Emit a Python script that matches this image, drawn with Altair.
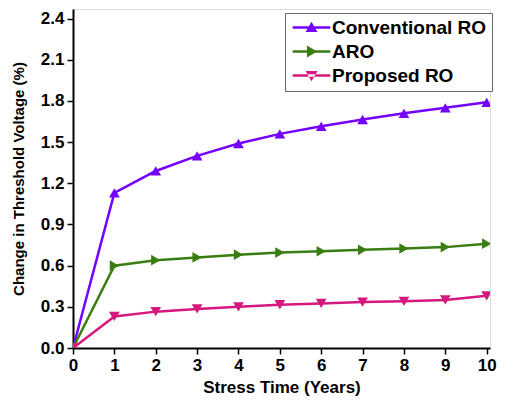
import altair as alt
import pandas as pd

years = [0, 1, 2, 3, 4, 5, 6, 7, 8, 9, 10]
conventional = [0.0, 1.13, 1.29, 1.40, 1.49, 1.56, 1.615, 1.665, 1.71, 1.75, 1.79]
aro = [0.0, 0.60, 0.64, 0.66, 0.68, 0.695, 0.705, 0.715, 0.725, 0.735, 0.76]
proposed = [0.0, 0.23, 0.265, 0.285, 0.30, 0.315, 0.325, 0.335, 0.34, 0.35, 0.38]

series = ["Conventional RO", "ARO", "Proposed RO"]
colors = ["#7400ff", "#3a7d13", "#d6177e"]
shapes = ["triangle-up", "triangle-right", "triangle-down"]
legend_shapes = [
    "M-3.3,-0.2H3.3V0.2H-3.3Z M0,-1.0L1.05,0.8H-1.05Z",
    "M-3.3,-0.2H3.3V0.2H-3.3Z M1.0,0L-0.8,1.05V-1.05Z",
    "M-3.3,-0.2H3.3V0.2H-3.3Z M0,1.0L1.05,-0.8H-1.05Z",
]
# major + minor tick positions
x_ticks = [i * 0.5 for i in range(0, 21)]
y_ticks = [round(i * 0.15, 2) for i in range(0, 17)]

rows = []
for name, vals in zip(series, [conventional, aro, proposed]):
    for t, v in zip(years, vals):
        rows.append({"year": t, "value": v, "series": name})
df = pd.DataFrame(rows)

FONT = "Liberation Sans"
xscale = alt.Scale(domain=[0, 10.08], nice=False, zero=False)
yscale = alt.Scale(domain=[0, 2.47], nice=False, zero=False)
cscale = alt.Scale(domain=series, range=colors)

x_major_test = "abs(datum.value - round(datum.value)) < 0.01"
y_major_test = "abs(datum.value - round(datum.value / 0.3) * 0.3) < 0.01"

x_enc = alt.X("year:Q", scale=xscale, title="Stress Time (Years)",
              axis=alt.Axis(values=x_ticks, format="d",
                            tickSize={"condition": {"test": x_major_test, "value": 6}, "value": 3.5},
                            labelExpr="abs(datum.value - round(datum.value)) < 0.01 ? format(datum.value, 'd') : ''",
                            labelOverlap=False, labelFlush=False,
                            tickWidth=1.5, domainWidth=2, domainColor="black", tickColor="black",
                            labelFontSize=17, labelFont=FONT, labelFontWeight="bold",
                            labelColor="black", labelPadding=3,
                            titleFontSize=17, titleFont=FONT, titleFontWeight="bold",
                            titleColor="black", titlePadding=6, grid=False))
y_enc = alt.Y("value:Q", scale=yscale, title="Change in Threshold Voltage (%)",
              axis=alt.Axis(values=y_ticks,
                            tickSize={"condition": {"test": y_major_test, "value": 6}, "value": 3.5},
                            labelExpr="abs(datum.value - round(datum.value / 0.3) * 0.3) < 0.01 ? format(datum.value, '.1f') : ''",
                            labelOverlap=False, labelFlush=False,
                            tickWidth=1.5, domainWidth=2, domainColor="black", tickColor="black",
                            labelFontSize=17, labelFont=FONT, labelFontWeight="bold",
                            labelColor="black", labelPadding=3,
                            titleFontSize=15, titleFont=FONT, titleFontWeight="bold",
                            titleColor="black", titlePadding=14, grid=False))

lines = alt.Chart(df).mark_line(strokeWidth=2.5, clip=True).encode(
    x=x_enc,
    y=y_enc,
    color=alt.Color("series:N", scale=cscale, legend=None),
    detail="series:N",
)

points = alt.Chart(df).mark_point(filled=True, opacity=1, size=115, clip=True).encode(
    x=alt.X("year:Q", scale=xscale),
    y=alt.Y("value:Q", scale=yscale),
    color=alt.Color("series:N", scale=cscale, legend=None),
    shape=alt.Shape("series:N", scale=alt.Scale(domain=series, range=shapes), legend=None),
)

leg = dict(orient="none", legendX=212, legendY=4, symbolOpacity=1,
           symbolSize=130, labelFontSize=19, labelFont=FONT,
           labelFontWeight="bold", labelColor="black",
           labelOffset=11, symbolOffset=12, rowPadding=4,
           padding=5, strokeColor="#666666", fillColor="white")

legend_layer = alt.Chart(df).mark_point(filled=True, opacity=0).encode(
    x=alt.X("year:Q", scale=xscale),
    y=alt.Y("value:Q", scale=yscale),
    color=alt.Color("series:N", scale=alt.Scale(domain=series, range=colors), title=None,
                    legend=alt.Legend(**leg)),
    shape=alt.Shape("series:N", scale=alt.Scale(domain=series, range=legend_shapes), title=None,
                    legend=alt.Legend(**leg)),
)

chart = alt.layer(lines, points, legend_layer).resolve_scale(
    color="independent", shape="independent"
).properties(
    width=417, height=339,
    autosize=alt.AutoSizeParams(type="none"),
    padding={"left": 65, "top": 1, "right": 7, "bottom": 48},
).configure_view(stroke="black", strokeWidth=2).configure(background="white")

chart.save("out.html", embed_options={"renderer": "svg", "actions": False})
